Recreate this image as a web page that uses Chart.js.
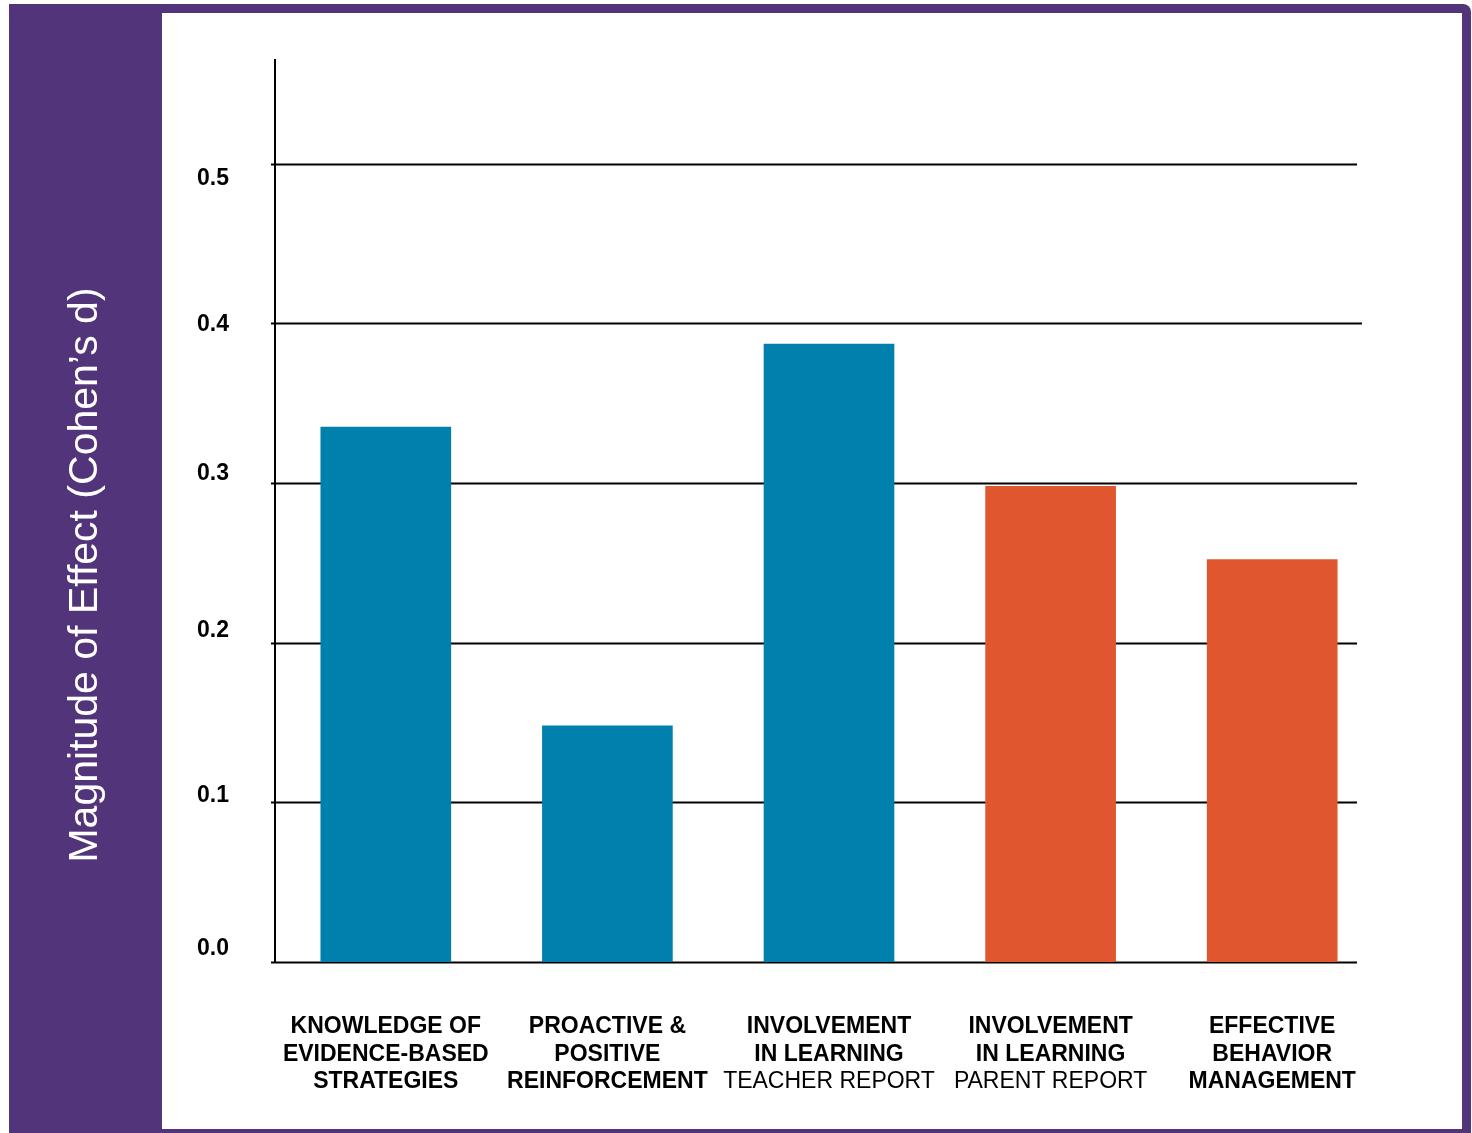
<!DOCTYPE html>
<html>
<head>
<meta charset="utf-8">
<title>Magnitude of Effect</title>
<script src="https://cdn.jsdelivr.net/npm/chart.js@4/dist/chart.umd.min.js"></script>
<style>
  html, body { margin: 0; padding: 0; background: #ffffff; }
  canvas { display: block; }
</style>
</head>
<body>
<canvas id="effectChart" width="1472" height="1133"></canvas>
<script>
// category names, one entry per line of the label
const categories = [
  ['KNOWLEDGE OF', 'EVIDENCE-BASED', 'STRATEGIES'],
  ['PROACTIVE &', 'POSITIVE', 'REINFORCEMENT'],
  ['INVOLVEMENT', 'IN LEARNING'],
  ['INVOLVEMENT', 'IN LEARNING'],
  ['EFFECTIVE', 'BEHAVIOR', 'MANAGEMENT']
];
// who reported the outcome (shown as a plain last line)
const reportSources = ['', '', 'TEACHER REPORT', 'PARENT REPORT', ''];
const effectSizes = [0.335, 0.148, 0.387, 0.298, 0.252];
const barGroups = [0, 0, 0, 1, 1];
const yTicks = [0.0, 0.1, 0.2, 0.3, 0.4, 0.5];
const yTitle = 'Magnitude of Effect (Cohen\u2019s d)';

const PURPLE = '#51347a';
const groupColors = ['#0080ad', '#e0562e'];
const FONT = '"Liberation Sans", Arial, Helvetica, sans-serif';

// the tick numbers sit a little off their rules, hand placed
const tickNudge = [-13, -7, -12, -9, 1, 15];

const framePlugin = {
  id: 'frame',
  // purple frame + side panel behind everything
  beforeDraw(chart) {
    const ctx = chart.ctx;
    ctx.save();
    ctx.fillStyle = '#ffffff';
    ctx.fillRect(0, 0, chart.width, chart.height);
    ctx.fillStyle = PURPLE;
    ctx.beginPath();
    ctx.roundRect(9, 4, 1462, chart.height + 10, [0, 8, 0, 0]);
    ctx.fill();
    ctx.fillStyle = '#ffffff';
    ctx.fillRect(162, 13, 1300, 1116);

    // axis title inside the side panel
    ctx.translate(86, 575);
    ctx.rotate(-Math.PI / 2);
    ctx.fillStyle = '#ffffff';
    ctx.font = '41px ' + FONT;
    ctx.textAlign = 'center';
    ctx.textBaseline = 'middle';
    ctx.fillText(yTitle, 0, 0);
    ctx.restore();
  },
  // horizontal rules, drawn under the bars
  beforeDatasetsDraw(chart) {
    const ctx = chart.ctx;
    const y = chart.scales.y;
    const left = chart.chartArea.left;
    ctx.save();
    ctx.strokeStyle = '#000000';
    ctx.lineWidth = 2;
    yTicks.forEach(v => {
      const py = Math.round(y.getPixelForValue(v)) + 0.5;
      ctx.beginPath();
      ctx.moveTo(left - 4, py);
      ctx.lineTo(v === 0.4 ? 1362 : 1357, py);
      ctx.stroke();
    });
    ctx.restore();
  },
  afterDraw(chart) {
    const ctx = chart.ctx;
    const x = chart.scales.x;
    const y = chart.scales.y;
    const base = chart.chartArea.bottom;
    ctx.save();
    ctx.fillStyle = '#000000';
    ctx.textBaseline = 'middle';

    // y tick numbers
    ctx.textAlign = 'right';
    ctx.font = 'bold 23px ' + FONT;
    yTicks.forEach((v, i) => {
      ctx.fillText(v.toFixed(1), 229, y.getPixelForValue(v) + tickNudge[i]);
    });

    // category labels, last line plain when it's a report source
    ctx.textAlign = 'center';
    categories.forEach((lines, i) => {
      const px = x.getPixelForValue(i);
      const all = lines.slice();
      if (reportSources[i]) all.push(reportSources[i]);
      all.forEach((line, j) => {
        const plain = reportSources[i] && j === all.length - 1;
        ctx.font = (plain ? '' : 'bold ') + '23px ' + FONT;
        ctx.fillText(line, px, base + 65 + j * 27.5);
      });
    });
    ctx.restore();
  }
};

new Chart(document.getElementById('effectChart'), {
  type: 'bar',
  data: {
    labels: categories.map(c => c.join(' ')),
    datasets: [{
      data: effectSizes,
      backgroundColor: barGroups.map(g => groupColors[g]),
      borderWidth: 0,
      barThickness: 130
    }]
  },
  options: {
    responsive: false,
    animation: false,
    layout: { padding: { top: 60, bottom: 171, left: 0, right: 89 } },
    plugins: {
      legend: { display: false },
      tooltip: { enabled: false }
    },
    scales: {
      x: {
        display: false
      },
      y: {
        min: 0,
        max: 0.565,
        afterFit(scale) { scale.width = 275; },
        grid: { display: false, drawTicks: false },
        border: { display: true, color: '#000000', width: 2 },
        ticks: { display: false, stepSize: 0.1, includeBounds: false }
      }
    }
  },
  plugins: [framePlugin]
});
</script>
</body>
</html>
